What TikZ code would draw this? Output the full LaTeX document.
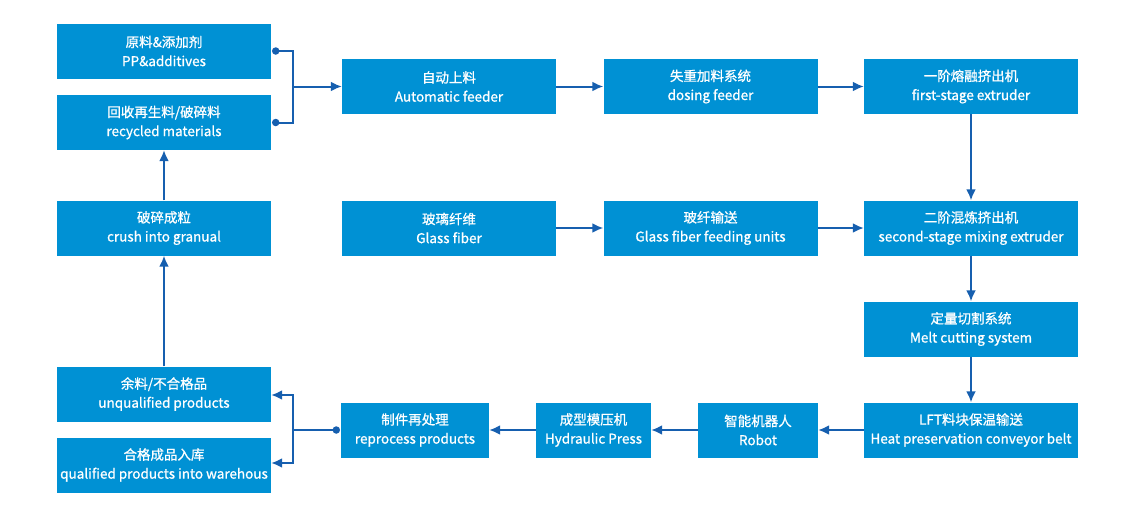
\documentclass[tikz,border=0pt]{standalone}
\usepackage{fontspec}
\setmainfont{Noto Sans CJK SC}
\newfontfamily\boxfont{Noto Sans CJK SC}[FakeBold=0.9]
\usetikzlibrary{arrows.meta}
\definecolor{boxblue}{RGB}{0,145,212}
\definecolor{lineblue}{RGB}{22,95,175}
\begin{document}
\begin{tikzpicture}
			[
				x                       = 1pt,
				y                       = -1pt,
				box/.style              = {fill=boxblue, text=white, align=center,
				                           minimum width=214pt, minimum height=55pt,
				                           inner sep=0pt, font=\boxfont\fontsize{13.5}{19}\selectfont},
				conn/.style             = {draw=lineblue, line width=2pt},
				arr/.style              = {conn, -{Latex[length=11pt,width=10pt]}},
				dot/.style              = {circle, fill=lineblue, inner sep=0pt, minimum size=7.5pt}
			]
			\useasboundingbox (0,0) rectangle (1146,509);
			% left column
			\node [box] (yuanliao) at (164,51)    {原料\&添加剂\\PP\&additives};
			\node [box] (huishou)  at (164,122.5) {回收再生料/破碎料\\recycled materials};
			\node [box] (posui)    at (164,228)   {破碎成粒\\crush into granual};
			\node [box] (yuliao)   at (164,394)   {余料/不合格品\\unqualified products};
			\node [box] (hege)     at (164,465)   {合格成品入库\\qualified products into warehous};
			% feeding rows
			\node [box] (zidong)   at (449,86.5)  {自动上料\\Automatic feeder};
			\node [box] (shizhong) at (710.5,86.5) {失重加料系统\\dosing feeder};
			\node [box] (yijie)    at (971,86.5)  {一阶熔融挤出机\\first-stage extruder};
			\node [box] (boli)     at (449,228)   {玻璃纤维\\Glass fiber};
			\node [box] (boxian)   at (710.5,228) {玻纤输送\\Glass fiber feeding units};
			\node [box] (erjie)    at (971,228)   {二阶混炼挤出机\\second-stage mixing extruder};
			\node [box] (dingliang) at (971,329)  {定量切割系统\\Melt cutting system};
			% bottom row
			\node [box] (lft)      at (971,430)   {LFT料块保温输送\\Heat preservation conveyor belt};
			\node [box, minimum width=120pt] (zhineng)   at (758,430)   {智能机器人\\Robot};
			\node [box, minimum width=115pt] (chengxing) at (593.5,430) {成型模压机\\Hydraulic Press};
			\node [box, minimum width=148pt] (zhijian)   at (415,430)   {制件再处理\\reprocess products};
			% junctions
			\coordinate (jtop) at (293,86.5);
			\coordinate (jbot) at (293,430);
			\node [dot] (d1) at ([xshift=4.5pt]yuanliao.east) {};
			\node [dot] (d2) at ([xshift=4.5pt]huishou.east) {};
			\node [dot] (d3) at ([xshift=-4.5pt]zhijian.west) {};
			\draw [conn] (d1.center) -| (jtop) |- (d2.center);
			\draw [arr] (jtop) -- (zidong);
			\draw [conn] (d3.center) -- (jbot);
			\draw [arr] (jbot) |- ([yshift=-1pt]yuliao.east);
			\draw [arr] (jbot) |- ([yshift=2pt]hege.east);
			% main flow
			\draw [arr] (zidong) -- (shizhong);
			\draw [arr] (shizhong) -- (yijie);
			\draw [arr] (yijie) -- (erjie);
			\draw [arr] (boli) -- (boxian);
			\draw [arr] (boxian) -- (erjie);
			\draw [arr] (erjie) -- (dingliang);
			\draw [arr] (dingliang) -- (lft);
			\draw [arr] (lft) -- (zhineng);
			\draw [arr] (zhineng) -- (chengxing);
			\draw [arr] (chengxing) -- (zhijian);
			\draw [arr] (yuliao) -- (posui);
			\draw [arr] (posui) -- (huishou);
		\end{tikzpicture}
\end{document}
